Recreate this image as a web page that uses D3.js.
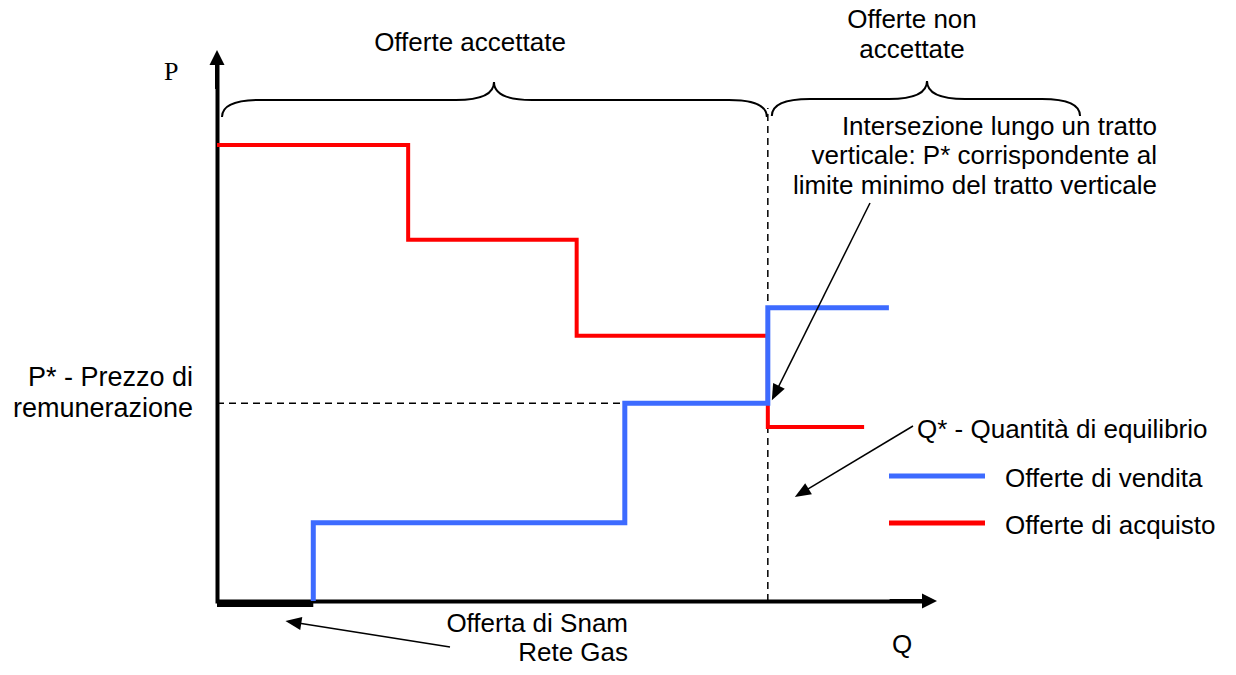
<!DOCTYPE html>
<html>
<head>
<meta charset="utf-8">
<script src="https://cdn.jsdelivr.net/npm/d3@7"></script>
<style>
  html, body { margin: 0; padding: 0; background: #fff; }
  svg { display: block; }
  text { font-family: "Liberation Sans", Arial, sans-serif; font-size: 26px; fill: #000; }
</style>
</head>
<body>
<svg width="1236" height="675"></svg>
<script>
(function (d3) {
  'use strict';

  // offerte di acquisto: gradini (quantità cumulata, prezzo)
  const buyQ = [0, 27.0, 50.8, 77.8, 91.4];
  const buyP = [84.6, 67.0, 49.2, 32.3, 32.3];

  // offerte di vendita
  const sellQ = [13.6, 13.6, 57.6, 77.8, 94.9];
  const sellP = [0, 14.5, 36.7, 54.4, 54.4];

  // offerta di Snam Rete Gas (a prezzo zero)
  const snamQ = [0, 13.6];
  const snamP = [0, 0];

  // equilibrio
  const pStar = 36.7;
  const qStar = 77.8;
  const qEnd = 121.9; // fine della graffa "non accettate"

  const seriesNames = ['Offerte di vendita', 'Offerte di acquisto'];
  const seriesColors = ['#3d6bff', '#ff0000'];

  const svg = d3.select('svg');

  const x = d3.scaleLinear().domain([0, 100]).range([217, 925]);
  const y = d3.scaleLinear().domain([0, 100]).range([601, 62]);

  const zip = (qs, ps) => qs.map((q, i) => ({ q, p: ps[i] }));

  const stepLine = d3.line()
    .x(d => x(d.q))
    .y(d => y(d.p))
    .curve(d3.curveStepAfter);

  const arrow = (g, x1, y1, x2, y2, len, half, width) => {
    const a = Math.atan2(y2 - y1, x2 - x1);
    const c = Math.cos(a), s = Math.sin(a);
    g.append('line')
      .attr('x1', x1).attr('y1', y1)
      .attr('x2', x2 - c * len * 0.7).attr('y2', y2 - s * len * 0.7)
      .attr('stroke', '#000')
      .attr('stroke-width', width);
    const bx = x2 - c * len, by = y2 - s * len;
    g.append('path')
      .attr('d', `M${x2},${y2}L${bx - s * half},${by + c * half}L${bx + s * half},${by - c * half}Z`)
      .attr('fill', '#000');
  };

  const brace = (g, x0, x1, xc, yEnd, yMid, yTip, r) => {
    g.append('path')
      .attr('d',
        `M${x0},${yEnd}Q${x0},${yMid} ${x0 + r},${yMid}` +
        `H${xc - r}Q${xc},${yMid} ${xc},${yTip}` +
        `Q${xc},${yMid} ${xc + r},${yMid}` +
        `H${x1 - r}Q${x1},${yMid} ${x1},${yEnd}`)
      .attr('fill', 'none')
      .attr('stroke', '#000')
      .attr('stroke-width', 2);
  };

  // testo su più righe, centrato verticalmente su midY
  const multiText = (g, lines, tx, midY, lh, anchor) => {
    const t = g.append('text')
      .attr('text-anchor', anchor);
    const y0 = midY - (lines.length - 1) * lh / 2;
    lines.forEach((l, i) => {
      t.append('tspan')
        .attr('x', tx)
        .attr('y', y0 + i * lh)
        .text(l);
    });
    return t;
  };

  // linee tratteggiate di equilibrio
  svg.append('line')
    .attr('x1', x(0)).attr('x2', x(qStar))
    .attr('y1', y(pStar)).attr('y2', y(pStar))
    .attr('stroke', '#000')
    .attr('stroke-width', 1.5)
    .attr('stroke-dasharray', '7,5');

  svg.append('line')
    .attr('x1', x(qStar)).attr('x2', x(qStar))
    .attr('y1', y(0)).attr('y2', 108)
    .attr('stroke', '#000')
    .attr('stroke-width', 1.5)
    .attr('stroke-dasharray', '7,5');

  // assi
  const xAxisG = svg.append('g')
    .attr('transform', `translate(0,${y(0)})`)
    .call(d3.axisBottom(x).tickValues([]).tickSizeOuter(0));
  xAxisG.select('.domain')
    .attr('stroke', '#000')
    .attr('stroke-width', 4);

  const yAxisG = svg.append('g')
    .attr('transform', `translate(${x(0)},0)`)
    .call(d3.axisLeft(y).tickValues([]).tickSizeOuter(0));
  yAxisG.select('.domain')
    .attr('stroke', '#000')
    .attr('stroke-width', 4)
    .attr('stroke-linecap', 'square');

  const axisArrows = svg.append('g');
  arrow(axisArrows, x(95), y(0), x(100) + 12, y(0), 15, 7.5, 4);
  arrow(axisArrows, x(0), y(95), x(0), y(100) - 12, 15, 7.5, 4);

  // offerta Snam
  svg.append('line')
    .attr('x1', x(snamQ[0])).attr('x2', x(snamQ[1]))
    .attr('y1', y(snamP[0]) + 2.5).attr('y2', y(snamP[1]) + 2.5)
    .attr('stroke', '#000')
    .attr('stroke-width', 7);

  // curve a gradini
  svg.append('path')
    .datum(zip(buyQ, buyP))
    .attr('d', stepLine)
    .attr('fill', 'none')
    .attr('stroke', seriesColors[1])
    .attr('stroke-width', 4);

  svg.append('path')
    .datum(zip(sellQ, sellP))
    .attr('d', stepLine)
    .attr('fill', 'none')
    .attr('stroke', seriesColors[0])
    .attr('stroke-width', 5);

  // graffe
  const ann = svg.append('g');
  brace(ann, x(0) + 5, x(qStar) - 1, 494, 117, 100, 82, 38);
  brace(ann, x(qStar) + 4, x(qEnd), 927, 116, 99, 81, 38);

  ann.append('text')
    .attr('x', 470).attr('y', 51)
    .attr('text-anchor', 'middle')
    .text('Offerte accettate');
  multiText(ann, ['Offerte non', 'accettate'], 912, 43, 29.5, 'middle');

  // etichette assi
  ann.append('text')
    .attr('x', 164).attr('y', 80)
    .style('font-family', '"Liberation Serif", "Times New Roman", serif')
    .style('font-size', '26px')
    .text('P');
  ann.append('text')
    .attr('x', 892).attr('y', 653)
    .text('Q');

  multiText(ann, ['P* - Prezzo di', 'remunerazione'], 193, 401.5, 30.5, 'end')
    .style('font-size', '27px');

  // annotazioni con frecce
  multiText(ann, [
    'Intersezione lungo un tratto',
    'verticale: P* corrispondente al',
    'limite minimo del tratto verticale'
  ], 1157, 164, 29.5, 'end');
  arrow(ann, 870, 203, x(qStar) + 4, y(pStar) - 3, 16, 6.5, 1.5);

  ann.append('text')
    .attr('x', 917).attr('y', 438)
    .text('Q* - Quantità di equilibrio');
  arrow(ann, 913, 426, x(qStar) + 27, 497, 16, 6.5, 1.5);

  multiText(ann, ['Offerta di Snam', 'Rete Gas'], 628, 646.5, 29.5, 'end');
  arrow(ann, 450, 647, x(6.7) + 21, 621, 16, 6.5, 1.5);

  // legenda
  const legend = svg.append('g');
  seriesNames.forEach((name, i) => {
    const ly = 476 + i * 47;
    legend.append('line')
      .attr('x1', 889).attr('x2', 985)
      .attr('y1', ly).attr('y2', ly)
      .attr('stroke', seriesColors[i])
      .attr('stroke-width', 5);
    legend.append('text')
      .attr('x', 1005).attr('y', ly + 11)
      .text(name);
  });

}(d3));
</script>
</body>
</html>
